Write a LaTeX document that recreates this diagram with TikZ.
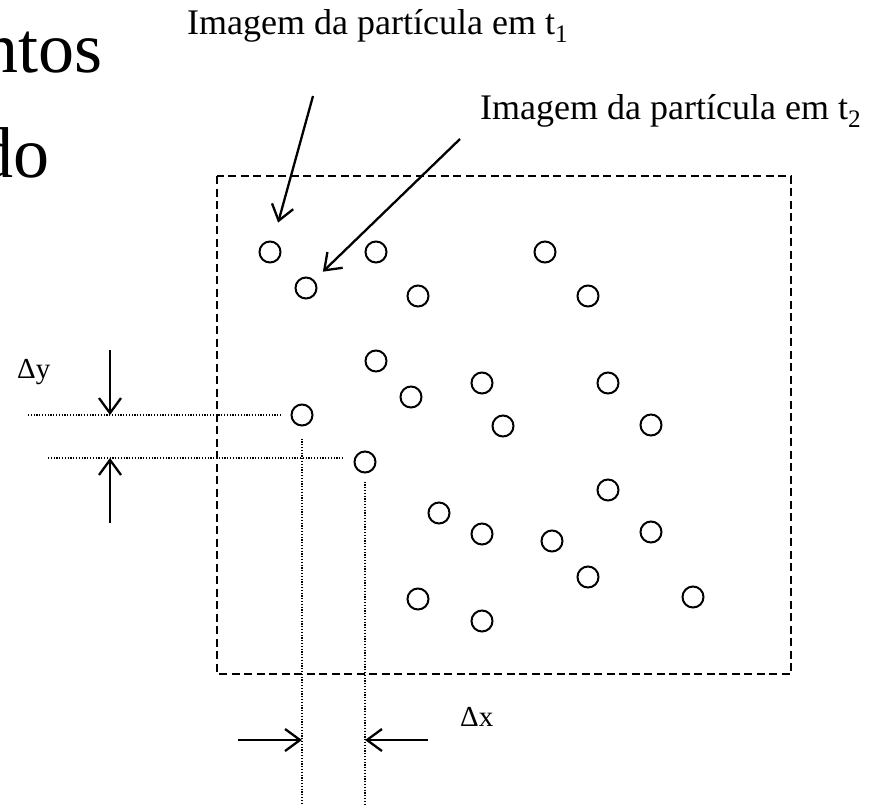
\documentclass[tikz,border=0pt]{standalone}
\usepackage{fontspec}
\setmainfont{Liberation Serif}
\usetikzlibrary{arrows.meta, calc}

\begin{document}
\begin{tikzpicture}[
  x=1pt, y=-1pt,
  >={Straight Barb[length=15pt, width=22pt]},
  particle/.style={circle, draw=black, line width=2pt, minimum size=21pt, inner sep=0pt},
  regionbox/.style={draw=black, line width=2.2pt, dash pattern=on 8pt off 4.5pt},
  guide/.style={draw=black, line width=1.3pt, dash pattern=on 1.2pt off 1.6pt},
  dimarrow/.style={->, line width=2.3pt},
  callout/.style={->, line width=2.3pt},
  imglabel/.style={inner sep=0pt, font=\fontsize{36}{40}\selectfont},
  deltalabel/.style={inner sep=0pt, font=\fontsize{29}{32}\selectfont},
  titletext/.style={inner sep=0pt, font=\fontsize{72}{76}\selectfont}
]
\useasboundingbox (0,0) rectangle (878,804);

% slide title, cut at the left edge
\node[titletext, anchor=base east] (ttl1) at (103,72) {ntos};
\node[titletext, anchor=base east] (ttl2) at (50,177) {do};

% interrogation area
\draw[regionbox] (217,176) rectangle (791,674);

% particle images
\foreach \n/\px/\py in {1/270/252, 2/376/252, 3/545/252, 4/306/288, 5/418/296,
  6/588/296, 7/376/361, 8/411/397, 9/482/383, 10/608/383, 11/302/415,
  12/503/426, 13/651/425, 14/365/462, 15/608/490, 16/439/513, 17/482/534,
  18/552/541, 19/651/532, 20/588/577, 21/418/599, 22/693/597, 23/482/621} {
  \node[particle] (p\n) at (\px,\py) {};
}

% labels and pointers
\node[imglabel, anchor=base west] (lbl1) at (187,34) {Imagem da partícula em t\textsubscript{1}};
\node[imglabel, anchor=base west] (lbl2) at (480,119) {Imagem da partícula em t\textsubscript{2}};
\coordinate (a1) at (313,96);
\coordinate (a2) at (460,139);
\draw[callout, shorten >=19pt] (a1) -- (p1);
\draw[callout, shorten >=12pt] (a2) -- (p4);

% guide lines
\coordinate (gy1) at (28,415);
\coordinate (gy2) at (48,458);
\coordinate (gx1) at (302,804);
\coordinate (gx2) at (365,804);
\draw[guide] (gy1) -- ([xshift=-10pt]p11.west);
\draw[guide] (gy2) -- ([xshift=-10pt]p14.west |- gy2);
\draw[guide] ([yshift=-12pt]p11.south) -- (gx1);
\draw[guide] ([yshift=-8pt]p14.south) -- (gx2);

% displacement in y
\coordinate (dy1) at (110,350);
\coordinate (dy2) at (110,523);
\draw[dimarrow] (dy1) -- (dy1 |- gy1);
\draw[dimarrow] (dy2) -- (dy2 |- gy2);
\node[deltalabel, anchor=base west] (dylbl) at (17,378) {Δy};

% displacement in x
\coordinate (dx1) at (238,740);
\coordinate (dx2) at (428,740);
\draw[dimarrow] (dx1) -- (dx1 -| gx1);
\draw[dimarrow] (dx2) -- (dx2 -| gx2);
\node[deltalabel, anchor=base west] (dxlbl) at (460,726) {Δx};

\end{tikzpicture}
\end{document}
